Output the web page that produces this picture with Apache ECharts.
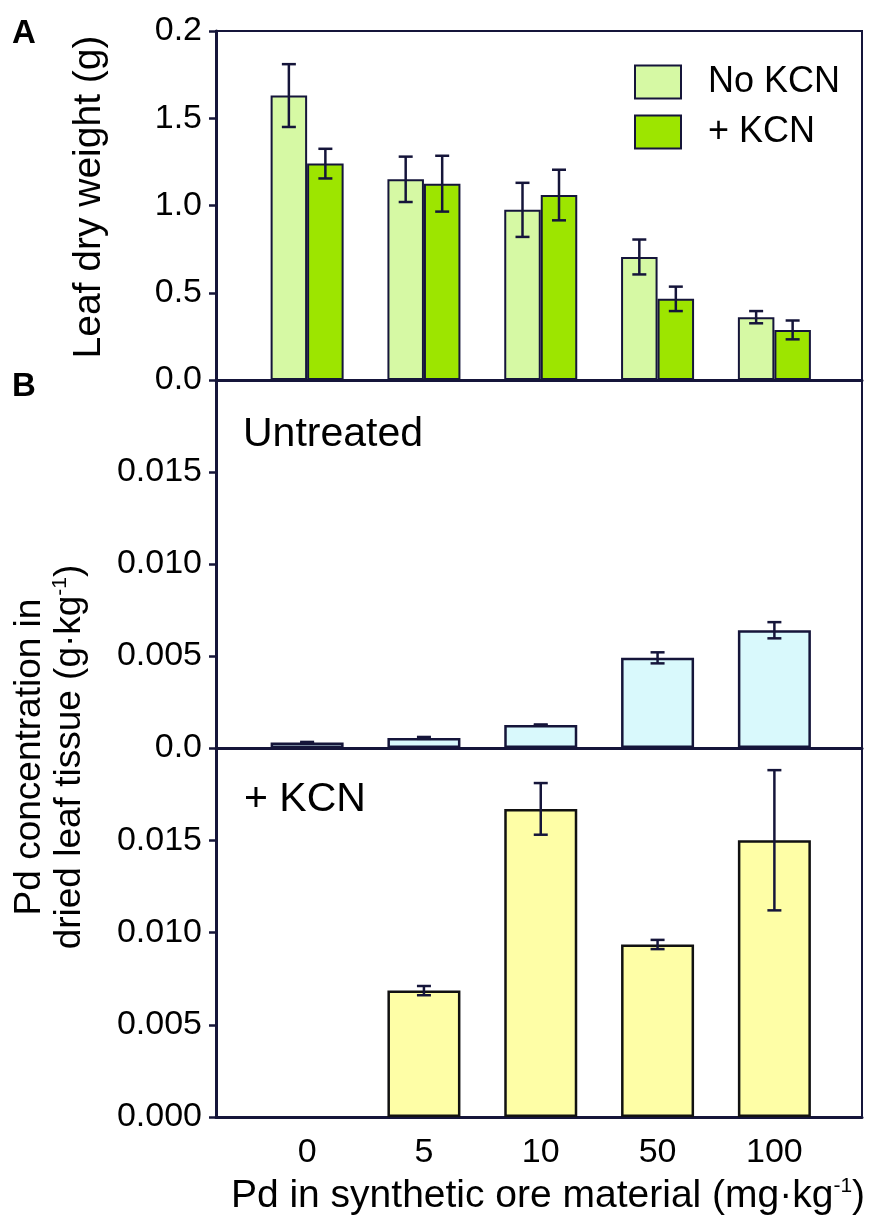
<!DOCTYPE html>
<html>
<head>
<meta charset="utf-8">
<script src="https://cdn.jsdelivr.net/npm/echarts@6/dist/echarts.min.js"></script>
<style>
  html, body { margin: 0; padding: 0; background: #fff; }
  #chart { width: 876px; height: 1218px; }
</style>
</head>
<body>
<div id="chart"></div>
<script>
// Pd treatments in the synthetic ore (mg·kg-1)
const categories = ['0', '5', '10', '50', '100'];

// Panel A: leaf dry weight (g), mean and error
const leafNoKCN    = [1.63, 1.15, 0.975, 0.705, 0.36];
const leafNoKCNErr = [0.18, 0.13, 0.155, 0.10, 0.035];
const leafKCN      = [1.24, 1.125, 1.06, 0.465, 0.287];
const leafKCNErr   = [0.085, 0.16, 0.145, 0.07, 0.054];

// Panel B: Pd in dried leaf tissue (g·kg-1)
const pdUntreated    = [0.0003, 0.00055, 0.00125, 0.0049, 0.0064];
const pdUntreatedErr = [0.00003, 0.00005, 0.00003, 0.0003, 0.00044];
const pdKCN          = [null, 0.00685, 0.0167, 0.00935, 0.0150];
const pdKCNErr       = [null, 0.00025, 0.0014, 0.00025, 0.0038];

// Tick labels for each value axis
const leafTicks        = ['0.0', '0.5', '1.0', '1.5', '0.2'];
const pdUntreatedTicks = ['0.0', '0.005', '0.010', '0.015', ''];
const pdKCNTicks       = ['0.000', '0.005', '0.010', '0.015', ''];

const INK = '#15153a';
const FONT = '"Liberation Sans", Arial, sans-serif';
const PAIR_W = 36.5;
const SINGLE_W = 73;

const chart = echarts.init(document.getElementById('chart'), null, { renderer: 'canvas' });

function pairs(values) {
  return values.map((v, i) => [i, v]);
}
function errData(values, errs) {
  return values.map((v, i) => v == null ? [i, null, null] : [i, v - errs[i], v + errs[i]]);
}
function errorSeries(name, grid, values, errs, offset) {
  return {
    type: 'custom',
    name: name,
    xAxisIndex: grid,
    yAxisIndex: grid,
    z: 5,
    silent: true,
    encode: { x: 0, y: [1, 2] },
    data: errData(values, errs),
    renderItem: function (params, api) {
      if (api.value(1) == null || isNaN(api.value(1))) return null;
      const x = api.value(0);
      const lo = api.coord([x, api.value(1)]);
      const hi = api.coord([x, api.value(2)]);
      const cx = lo[0] + offset;
      const cap = 7;
      const style = { stroke: INK, lineWidth: 2.5 };
      return {
        type: 'group',
        children: [
          { type: 'line', shape: { x1: cx, y1: lo[1], x2: cx, y2: hi[1] }, style: style },
          { type: 'line', shape: { x1: cx - cap, y1: hi[1], x2: cx + cap, y2: hi[1] }, style: style },
          { type: 'line', shape: { x1: cx - cap, y1: lo[1], x2: cx + cap, y2: lo[1] }, style: style }
        ]
      };
    }
  };
}

const gridBase = { left: 216, right: 14, show: true, borderColor: INK, borderWidth: 2 };
const grids = [
  Object.assign({ top: 31, height: 349 }, gridBase),
  Object.assign({ top: 380, height: 368 }, gridBase),
  Object.assign({ top: 748, height: 369 }, gridBase)
];

const categoryPositions = categories.map((c, i) => i);

function xAxisFor(i, showLabels) {
  return {
    type: 'value',
    gridIndex: i,
    min: -0.78,
    max: 4.75,
    splitLine: { show: false },
    axisTick: { show: false },
    axisLine: { show: true, onZero: false, lineStyle: { color: INK, width: 3 } },
    axisLabel: {
      show: showLabels,
      customValues: categoryPositions,
      margin: 19,
      color: '#000',
      fontFamily: FONT,
      fontSize: 34,
      formatter: function (v) {
        const k = Math.round(v);
        return (k >= 0 && k < categories.length) ? categories[k] : '';
      }
    }
  };
}

function yAxisFor(i, max, interval, ticks) {
  return {
    type: 'value',
    gridIndex: i,
    min: 0,
    max: max,
    interval: interval,
    splitLine: { show: false },
    axisLine: { show: true, onZero: false, lineStyle: { color: INK, width: 3 } },
    axisTick: { show: true, length: 7, lineStyle: { color: INK, width: 2.5 } },
    axisLabel: {
      margin: 14,
      color: '#000',
      fontFamily: FONT,
      fontSize: 34,
      showMaxLabel: true,
      showMinLabel: true,
      formatter: function (v) {
        const k = Math.round(v / interval);
        return ticks[k] != null ? ticks[k] : '';
      }
    }
  };
}

const option = {
  backgroundColor: '#fff',
  animation: false,
  grid: grids,
  xAxis: [xAxisFor(0, false), xAxisFor(1, false), xAxisFor(2, true)],
  yAxis: [
    yAxisFor(0, 2.0, 0.5, leafTicks),
    yAxisFor(1, 0.020, 0.005, pdUntreatedTicks),
    yAxisFor(2, 0.020, 0.005, pdKCNTicks)
  ],
  legend: {
    data: ['No KCN', '+ KCN'],
    orient: 'vertical',
    left: 629,
    top: 59,
    itemWidth: 46,
    itemHeight: 33,
    itemGap: 14,
    icon: 'rect',
    selectedMode: false,
    textStyle: {
      color: '#000',
      fontFamily: FONT,
      fontSize: 36,
      lineHeight: 33,
      padding: [0, 0, 0, 22]
    }
  },
  series: [
    {
      type: 'bar', name: 'No KCN', xAxisIndex: 0, yAxisIndex: 0,
      barWidth: PAIR_W, barGap: '0%',
      itemStyle: { color: '#d6f9a4', borderColor: INK, borderWidth: 2 },
      data: pairs(leafNoKCN)
    },
    {
      type: 'bar', name: '+ KCN', xAxisIndex: 0, yAxisIndex: 0,
      barWidth: PAIR_W, barGap: '0%',
      itemStyle: { color: '#9de500', borderColor: INK, borderWidth: 2 },
      data: pairs(leafKCN)
    },
    {
      type: 'bar', name: 'Untreated', xAxisIndex: 1, yAxisIndex: 1,
      barWidth: SINGLE_W,
      itemStyle: { color: '#d9f9fc', borderColor: INK, borderWidth: 2.5 },
      data: pairs(pdUntreated)
    },
    {
      type: 'bar', name: 'KCN treated', xAxisIndex: 2, yAxisIndex: 2,
      barWidth: SINGLE_W,
      itemStyle: { color: '#fefea6', borderColor: '#111', borderWidth: 2.5 },
      data: pairs(pdKCN)
    },
    errorSeries('err No KCN', 0, leafNoKCN, leafNoKCNErr, -PAIR_W / 2),
    errorSeries('err + KCN', 0, leafKCN, leafKCNErr, PAIR_W / 2),
    errorSeries('err Untreated', 1, pdUntreated, pdUntreatedErr, 0),
    errorSeries('err KCN treated', 2, pdKCN, pdKCNErr, 0)
  ],
  graphic: [
    { type: 'text', left: 12, top: 17, style: { text: 'A', font: 'bold 33px ' + FONT, fill: '#000' } },
    { type: 'text', left: 12, top: 370, style: { text: 'B', font: 'bold 33px ' + FONT, fill: '#000' } },
    { type: 'text', left: 243, top: 414, style: { text: 'Untreated', font: '41px ' + FONT, fill: '#000' } },
    { type: 'text', left: 244, top: 779, style: { text: '+ KCN', font: '41px ' + FONT, fill: '#000' } },
    {
      type: 'text', x: 89, y: 197, rotation: Math.PI / 2,
      style: { text: 'Leaf dry weight (g)', font: '39px ' + FONT, fill: '#000', align: 'center', verticalAlign: 'middle' }
    },
    {
      type: 'text', x: 50, y: 757, rotation: Math.PI / 2,
      style: {
        text: 'Pd concentration in\ndried leaf tissue (g·kg{sup|-1})',
        font: '37px ' + FONT, fill: '#000', align: 'center', verticalAlign: 'middle', lineHeight: 40,
        rich: { sup: { fontSize: 21, fontFamily: FONT, fill: '#000', verticalAlign: 'top', lineHeight: 40, padding: [0, 0, 14, 0] } }
      }
    },
    {
      type: 'text', x: 548, y: 1196,
      style: {
        text: 'Pd in synthetic ore material (mg·kg{sup|-1})',
        font: '39px ' + FONT, fill: '#000', align: 'center', verticalAlign: 'middle', lineHeight: 40,
        rich: { sup: { fontSize: 21, fontFamily: FONT, fill: '#000', verticalAlign: 'top', lineHeight: 40, padding: [0, 0, 14, 0] } }
      }
    }
  ]
};

chart.setOption(option);
</script>
</body>
</html>
